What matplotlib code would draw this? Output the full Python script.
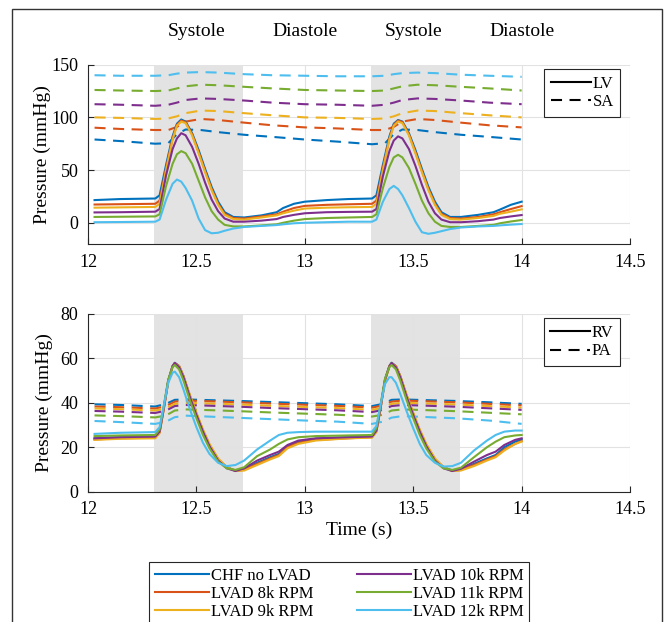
import matplotlib
matplotlib.use("Agg")
import matplotlib.pyplot as plt
from matplotlib.lines import Line2D
from matplotlib.patches import Rectangle
from matplotlib.transforms import blended_transform_factory

plt.rcParams["font.family"] = ["Liberation Serif", "DejaVu Serif"]

COLORS = ["#0072BD", "#D95319", "#EDB120", "#7E2F8E", "#77AC30", "#4DBEEE"]
SERIES = ["CHF no LVAD", "LVAD 8k RPM", "LVAD 9k RPM", "LVAD 10k RPM", "LVAD 11k RPM", "LVAD 12k RPM"]

# ---- LV pressure (mmHg) ----
T_LV = [12.03, 12.15, 12.31, 12.33, 12.36, 12.39, 12.41, 12.43, 12.45, 12.48, 12.51, 12.54,
        12.57, 12.60, 12.63, 12.67, 12.72, 12.80, 12.87, 12.90, 12.95, 13.00, 13.10, 13.20, 13.31,
        13.33, 13.36, 13.39, 13.41, 13.43, 13.45, 13.48, 13.51, 13.54, 13.57, 13.60, 13.63,
        13.67, 13.72, 13.80, 13.87, 13.90, 13.95, 14.00]
LV_CHF = [21.5, 22.5, 23.0, 26, 55, 82, 94, 98, 96, 85, 69, 51, 34, 20, 10, 5.5, 5, 7, 10, 14, 18, 20, 21.5, 22.5, 23,
          26, 55, 82, 94, 97.5, 96, 85, 69, 51, 34, 20, 10, 5.5, 5.5, 7.5, 10, 12.5, 17, 20]
LV_8K = [17.3, 17.6, 18.0, 21, 52, 80, 93, 97, 95.5, 84, 67, 49, 32, 18, 8.5, 4.5, 4, 6, 8, 10.5, 14, 16, 17, 17.5, 18,
         21, 52, 80, 93, 97, 95.5, 84, 67, 49, 32, 18, 8.5, 4.5, 4, 5.5, 8, 10, 13, 15.8]
LV_9K = [14.3, 14.6, 15.0, 18, 50, 79, 92, 96, 94.5, 83, 66, 48, 31, 17, 7.5, 3.5, 3, 5, 7, 9, 11.5, 13.5, 14.3, 14.7, 15,
         18, 50, 79, 92, 96, 94.5, 83, 66, 48, 31, 17, 7.5, 3.5, 3, 4.5, 6.5, 8.5, 10.5, 12.7]
LV_10K = [9.8, 10.0, 10.5, 13, 45, 70, 80, 85, 83, 72, 56, 38, 22, 11, 4, 1, 1, 2, 3.5, 5.5, 7.5, 9, 10, 10.3, 10.5,
          13, 44, 68, 78, 82, 80, 70, 54, 36, 20, 9, 3, 0.5, 0.5, 1.5, 3, 4.5, 6, 7.3]
LV_11K = [5.5, 5.7, 6.0, 8, 35, 56, 65, 68, 66, 56, 40, 24, 11, 3, -2, -3.5, -3.5, -2.5, -1.5, 0, 2, 3.5, 4.5, 5, 5.5,
          8, 33, 53, 62, 64.5, 62, 52, 37, 21, 9, 1, -3, -4, -4, -3, -2, -0.5, 1.2, 2.6]
LV_12K = [0.5, 0.7, 1.0, 3, 22, 37, 41, 39, 33, 21, 4, -7, -10, -9.5, -7.6, -5.5, -4, -3, -2.2, -1.5, -0.5, 0, 0.5, 1, 1,
          3, 20, 32, 35, 32, 26, 14, 1, -9, -10.5, -9.5, -8, -6, -4.5, -3.5, -3, -2.5, -1.8, -1.2]

# ---- SA pressure (mmHg) ----
T_SA = [12.03, 12.15, 12.31, 12.37, 12.41, 12.45, 12.52, 12.60, 12.72, 12.85, 13.00,
        13.15, 13.31, 13.37, 13.41, 13.45, 13.52, 13.60, 13.72, 13.85, 14.00]
SA_CHF = [79, 77.5, 75, 75.5, 84, 88.5, 88, 86, 83.5, 81.5, 79, 77, 74.5, 75.5, 84, 88.5, 88, 86, 83.5, 81.5, 79]
SA_8K = [90.2, 89, 88, 88, 91, 96, 98.5, 97.5, 95, 92.5, 90.5, 89.5, 88, 88, 91, 96, 98.5, 97.5, 95, 92.5, 90.5]
SA_9K = [100, 99.5, 98.5, 99, 101, 104, 106.5, 106, 104, 102, 100, 99.5, 98.5, 99, 101, 104, 106.5, 106, 104, 102, 100]
SA_10K = [112.5, 112, 111, 112, 114, 116.5, 118, 117.5, 116, 114, 112.5, 112, 111, 112, 114, 116.5, 118, 117.5, 116, 114, 112.5]
SA_11K = [126, 125.5, 125, 125.5, 127.5, 129.5, 131, 130.5, 129, 127.5, 126, 125.5, 125, 125.5, 127.5, 129.5, 131, 130.5, 129, 127.5, 125.5]
SA_12K = [140, 139.5, 139.5, 140, 141.5, 142.5, 143, 142.5, 141, 140, 139.5, 139, 139, 139.5, 141, 142, 142.5, 142, 140.5, 139.5, 138.5]

# ---- RV pressure (mmHg), bottom panel ----
T_RV = [12.03, 12.15, 12.31, 12.33, 12.35, 12.37, 12.39, 12.40, 12.42, 12.44, 12.47, 12.50, 12.53,
        12.56, 12.60, 12.64, 12.68, 12.72, 12.78, 12.84, 12.88, 12.92, 12.97, 13.05, 13.20, 13.31,
        13.33, 13.35, 13.37, 13.39, 13.40, 13.42, 13.44, 13.47, 13.50, 13.53, 13.56, 13.60, 13.64,
        13.68, 13.72, 13.78, 13.84, 13.88, 13.92, 13.97, 14.00]
RV_CHF = [24.0, 24.5, 24.8, 27, 38, 50, 56.5, 58, 56.5, 52, 43, 35, 27.5, 21, 14.5, 11, 9.5, 10, 13, 15.5, 17, 20.5, 22.5, 23.8, 24.5, 25,
          27.5, 38.5, 50.5, 56.5, 58, 56.5, 52, 43, 35, 27.5, 21, 14.5, 11, 9.5, 10, 12.5, 15, 16.5, 20, 22.5, 23.5]
RV_8K = [23.5, 24, 24.3, 26.5, 37.5, 49.5, 56.5, 57.8, 56.5, 52, 43, 35, 27.5, 21, 14.5, 11, 9.3, 9.8, 12.5, 15, 16.5, 20, 22, 23.3, 24, 24.5,
         27, 38, 50, 56.5, 57.8, 56.5, 52, 43, 35, 27.5, 21, 14.5, 11, 9.3, 9.8, 12, 14.5, 16, 19, 21.5, 22.8]
RV_9K = [23.3, 23.8, 24.0, 26.5, 37.5, 49.5, 56.5, 57.5, 56.5, 52, 43.5, 35.5, 28, 21.5, 15, 11, 9.3, 9.5, 12, 14.5, 16, 19.5, 21.5, 23, 24, 24.3,
         27, 38, 50, 56.5, 57.5, 56.5, 52, 43.5, 35.5, 28, 21.5, 15, 11, 9.3, 9.5, 11.5, 14, 15.5, 18.5, 21.5, 22.5]
RV_10K = [24.0, 24.5, 24.8, 27, 38, 50, 56.5, 57.8, 56, 51.5, 42.5, 34.5, 27, 20.5, 14, 10.5, 9.3, 10.5, 14, 16.5, 18, 21, 23, 24, 24.5, 24.8,
          27.5, 38.5, 50.5, 56.5, 57.8, 56, 51.5, 42.5, 34.5, 27, 20.5, 14, 10.5, 9.3, 10.3, 13.5, 16.5, 18, 21, 23.3, 24]
RV_11K = [25.0, 25.3, 25.5, 28, 39, 50.5, 56, 57, 55, 50, 41, 33, 25.5, 19.5, 13.5, 10.5, 9.8, 11, 16, 19, 21.5, 23.5, 24.5, 25, 25.3, 25.5,
          28.5, 39.5, 51, 56, 57, 55, 50, 41, 33, 25.5, 19.5, 13.5, 10.5, 9.8, 10.8, 15.5, 20, 22.5, 24.5, 25.3, 25.5]
RV_12K = [26.0, 26.5, 26.8, 29, 39, 49, 53.5, 54, 51.5, 46, 37, 29, 22, 17, 13, 11.5, 12, 14, 19, 23, 25.5, 26.5, 26.8, 27, 27, 27,
          29.5, 39.5, 48.5, 51.5, 51.5, 49, 44, 36, 28.5, 21.5, 16.5, 13, 11.3, 11.5, 13, 18.5, 23, 25.5, 27, 27.5, 27.5]

# ---- PA pressure (mmHg) ----
T_PA = [12.03, 12.15, 12.31, 12.36, 12.40, 12.45, 12.55, 12.70, 12.85, 13.00,
        13.15, 13.31, 13.36, 13.40, 13.45, 13.55, 13.70, 13.85, 14.00]
PA_CHF = [39.3, 39, 38.3, 39.5, 41.3, 41.5, 41.2, 40.8, 40.3, 39.8, 39.3, 38.5, 39.5, 41.3, 41.5, 41.2, 40.8, 40.2, 39.5]
PA_8K = [38.3, 38, 37.4, 38.5, 40.5, 41, 40.7, 40.2, 39.6, 39.1, 38.6, 37.8, 38.8, 40.5, 41, 40.7, 40.2, 39.5, 38.8]
PA_9K = [37.4, 37.1, 36.5, 37.5, 39.5, 40, 39.7, 39.2, 38.6, 38.1, 37.6, 36.8, 37.8, 39.5, 40, 39.7, 39.2, 38.5, 37.8]
PA_10K = [36.3, 36, 35.4, 36.5, 38.5, 39, 38.7, 38.2, 37.6, 37.1, 36.6, 35.8, 36.8, 38.5, 39, 38.7, 38.2, 37.5, 36.8]
PA_11K = [34.3, 34, 33.4, 34.3, 36.5, 37, 36.7, 36.2, 35.6, 35.1, 34.6, 33.8, 34.6, 36.5, 37, 36.7, 36.2, 35.5, 34.8]
PA_12K = [31.8, 31.3, 30.5, 31.5, 33.5, 34.2, 33.8, 33.2, 32.6, 32, 31.5, 30.5, 31.5, 33.3, 34, 33.6, 33, 32, 30.5]

SYSTOLE_SPANS = [(12.305, 12.715), (13.305, 13.715)]
PHASE_LABELS = [(12.5, "Systole"), (13.0, "Diastole"), (13.5, "Systole"), (14.0, "Diastole")]

LV = [LV_CHF, LV_8K, LV_9K, LV_10K, LV_11K, LV_12K]
SA = [SA_CHF, SA_8K, SA_9K, SA_10K, SA_11K, SA_12K]
RV = [RV_CHF, RV_8K, RV_9K, RV_10K, RV_11K, RV_12K]
PA = [PA_CHF, PA_8K, PA_9K, PA_10K, PA_11K, PA_12K]

LW = 1.5
DASH = (5.3, 3.6)
GRID_C = "#e2e2e2"
SHADE_C = "#e3e3e3"

fig = plt.figure(figsize=(6.67, 6.22), dpi=100)
ax1 = fig.add_axes([0.132, 0.608, 0.8126, 0.288])
ax2 = fig.add_axes([0.132, 0.2095, 0.8126, 0.286])


def style_axes(ax, ylim, yticks, shade_over_grid):
    ax.set_xlim(12, 14.5)
    ax.set_ylim(*ylim)
    ax.set_xticks([12, 12.5, 13, 13.5, 14, 14.5])
    ax.set_xticklabels(["12", "12.5", "13", "13.5", "14", "14.5"])
    ax.set_yticks(yticks)
    ax.set_axisbelow(True)
    ax.grid(True, color=GRID_C, linewidth=0.8)
    for s in ["top", "right"]:
        ax.spines[s].set_visible(False)
    for s in ["left", "bottom"]:
        ax.spines[s].set_color("#262626")
        ax.spines[s].set_linewidth(0.8)
    ax.tick_params(direction="in", length=4, width=0.8, labelsize=13, colors="#262626",
                   labelcolor="black", pad=7)
    for a, b in SYSTOLE_SPANS:
        ax.axvspan(a, b, color=SHADE_C, lw=0, zorder=1 if shade_over_grid else 0.2)


style_axes(ax1, (-20, 150), [0, 50, 100, 150], True)
style_axes(ax2, (0, 80), [0, 20, 40, 60, 80], False)

for i in range(6):
    ax1.plot(T_SA, SA[i], color=COLORS[i], lw=LW, dashes=DASH, zorder=2)
for i in range(6):
    ax1.plot(T_LV, LV[i], color=COLORS[i], lw=LW, zorder=3)

for i in range(6):
    ax2.plot(T_PA, PA[i], color=COLORS[i], lw=LW, dashes=DASH, zorder=2)
for i in range(6):
    ax2.plot(T_RV, RV[i], color=COLORS[i], lw=LW, zorder=3)

ax1.set_ylabel("Pressure (mmHg)", fontsize=14, labelpad=0)
ax2.set_ylabel("Pressure (mmHg)", fontsize=14, labelpad=5.5)
ax2.set_xlabel("Time (s)", fontsize=14, labelpad=2)

trans = blended_transform_factory(ax1.transData, fig.transFigure)
for x, lab in PHASE_LABELS:
    ax1.text(x, 1 - 32 / 622, lab, transform=trans, ha="center", va="center", fontsize=14)

# small line-style legends
for ax, names in [(ax1, ["LV", "SA"]), (ax2, ["RV", "PA"])]:
    handles = [Line2D([], [], color="black", lw=LW),
               Line2D([], [], color="black", lw=LW, dashes=DASH)]
    leg = ax.legend(handles, names, loc="upper right", bbox_to_anchor=(0.982, 0.975),
                    borderaxespad=0, fontsize=12, handlelength=2.4, handletextpad=0.1,
                    labelspacing=0.15, borderpad=0.4, fancybox=False, framealpha=1)
    leg.get_frame().set_edgecolor("#262626")
    leg.get_frame().set_linewidth(0.8)

# series legend below (fills column by column)
handles = [Line2D([], [], color=c, lw=LW) for c in COLORS]
leg = fig.legend(handles, SERIES, ncol=2, loc="upper center",
                 bbox_to_anchor=(0.5085, 1 - 562 / 622), borderaxespad=0, fontsize=12,
                 handlelength=3.25, handletextpad=0.1, columnspacing=2.6, labelspacing=0.12,
                 borderpad=0.35, fancybox=False, framealpha=1)
leg.get_frame().set_edgecolor("#262626")
leg.get_frame().set_linewidth(0.8)

# outer frame around the figure
fig.patches.append(Rectangle((12 / 667, -0.05), 650 / 667, 1.05 - 9 / 622, transform=fig.transFigure,
                             fill=False, edgecolor="#333333", lw=1.0, figure=fig))

fig.savefig("out.png", dpi=100)
